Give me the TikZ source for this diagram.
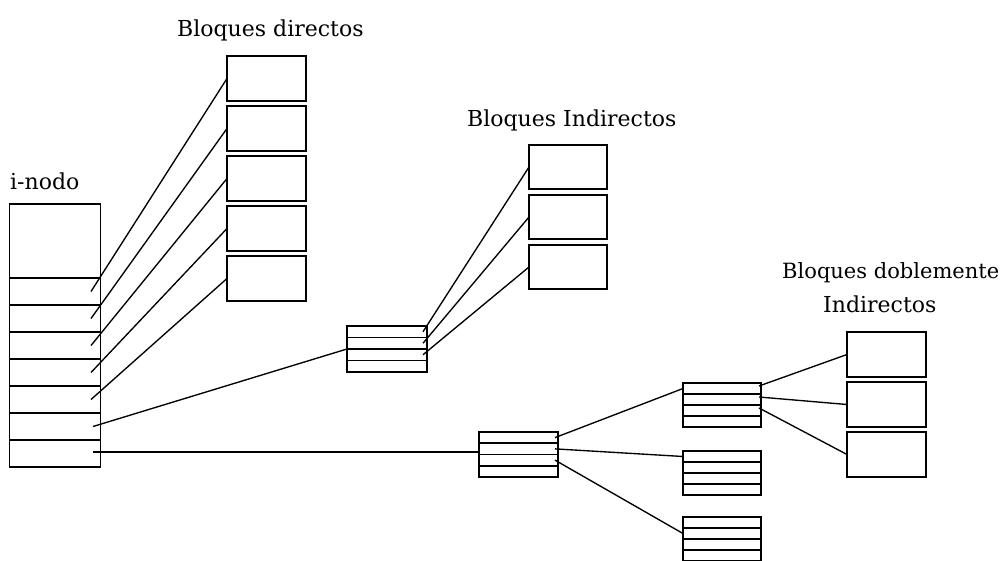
\documentclass[tikz,border=0pt]{standalone}
\usepackage{fontspec}
\setmainfont{DejaVu Serif}
\begin{document}
\begin{tikzpicture}[x=1pt,y=-1pt,
  box/.style={draw, rectangle, inner sep=0pt, outer sep=0pt, line width=1.6pt},
  link/.style={line width=1.35pt},
  lbl/.style={anchor=base west, inner sep=0pt, font=\fontsize{22}{26}\selectfont}]
\useasboundingbox (0,0) rectangle (1008,561);

% i-nodo: header cell and seven pointer cells
\node[box, minimum width=91pt, minimum height=74pt] (inode) at (55,241) {};
\foreach \i in {1,...,7}
  \node[box, minimum width=91pt, minimum height=27pt] (c\i) at (55,{278+27*\i-13.5}) {};

% direct data blocks
\foreach \i in {1,...,5}
  \node[box, minimum width=79pt, minimum height=45pt] (d\i) at (266.5,{28.5+50*\i}) {};

% single indirect pointer block
\foreach \i in {1,...,4}
  \node[box, minimum width=80pt, minimum height=11.5pt] (s\i) at (387,{326+11.5*\i-5.75}) {};

% blocks reached through the single indirect block
\foreach \i in {1,2,3}
  \node[box, minimum width=78pt, minimum height=44pt] (b\i) at (568,{117+50*\i}) {};

% double indirect: first level
\foreach \i in {1,...,4}
  \node[box, minimum width=79pt, minimum height=11.25pt] (D\i) at (518.5,{432+11.25*\i-5.625}) {};

% double indirect: second level pointer blocks
\foreach \n/\t in {A/383,B/451,C/517}
  \foreach \i in {1,...,4}
    \node[box, minimum width=78pt, minimum height=11pt] (\n\i) at (722,{\t+11*\i-5.5}) {};

% data blocks behind the double indirect chain
\foreach \i in {1,2,3}
  \node[box, minimum width=79pt, minimum height=45pt] (E\i) at (886.5,{304.5+50*\i}) {};

% pointers out of the i-nodo
\foreach \i in {1,...,5} {
  \coordinate (p\i) at ([xshift=36pt]c\i.center);
  \draw[link] (p\i) -- (d\i.west);
}
\coordinate (p6) at ([xshift=38pt]c6.center);
\draw[link] (p6) -- (s2.south west);
\coordinate (p7) at ([xshift=38pt,yshift=1.5pt]c7.center);
\draw[link] (p7) -- (p7 -| D2.west);

% pointers out of the single indirect block
\foreach \i in {1,2,3} {
  \coordinate (q\i) at ([xshift=36pt]s\i.center);
  \draw[link] (q\i) -- (b\i.west);
}

% pointers out of the first double indirect level
\coordinate (r1) at ([xshift=36.5pt]D1.center);
\coordinate (r2) at ([xshift=36.5pt]D2.center);
\coordinate (r3) at ([xshift=36.5pt]D3.center);
\draw[link] (r1) -- (A1.west);
\draw[link] (r2) -- (B1.west);
\draw[link] (r3) -- (C2.west);

% pointers out of the second level block
\foreach \i in {1,2,3} {
  \coordinate (u\i) at ([xshift=37pt,yshift=2.5pt]A\i.center);
  \draw[link] (u\i) -- (E\i.west);
}

% labels
\node[lbl] (t1) at (177,37) {Bloques directos};
\node[lbl] (t2) at (467,127) {Bloques Indirectos};
\node[lbl] (t3) at (10,190) {i-nodo};
\node[lbl, font=\fontsize{21}{25}\selectfont] (t4) at (782,278) {Bloques doblemente};
\node[lbl] (t5) at (823,312) {Indirectos};
\end{tikzpicture}
\end{document}
